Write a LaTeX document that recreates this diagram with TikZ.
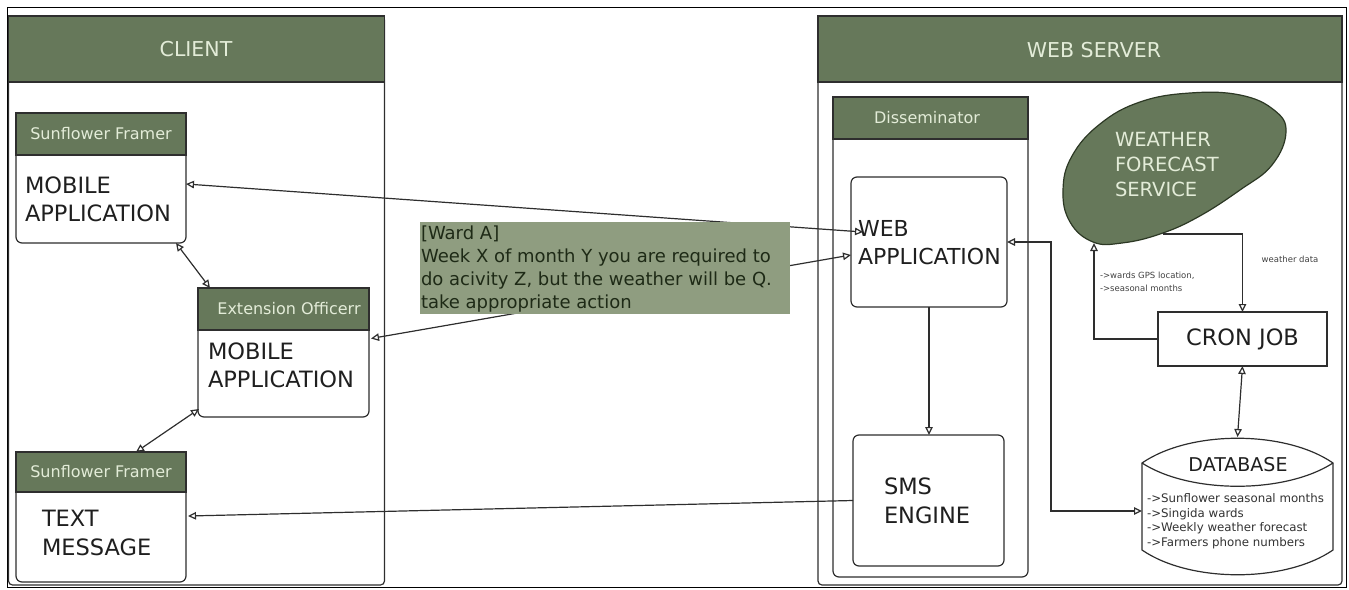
\documentclass[tikz,border=0pt]{standalone}
\usepackage{fontspec}
\setmainfont{DejaVu Sans}
\usetikzlibrary{arrows.meta}
\definecolor{hdrgreen}{HTML}{66785A}
\definecolor{hdrtext}{HTML}{E3ECD8}
\definecolor{msgfill}{HTML}{8F9D80}
\definecolor{msgtext}{HTML}{1E2A16}
\definecolor{edge}{HTML}{2E2E2E}
\definecolor{blobedge}{HTML}{2C3824}
\newcommand\fsz[2]{\fontsize{#1}{#2}\selectfont}

\begin{document}
\begin{tikzpicture}[x=1pt,y=-1pt,
  every node/.style={inner sep=0pt, outer sep=0pt},
  lane/.style={draw=edge, line width=1.2pt, rounded corners=4pt},
  laneheader/.style={draw=edge, fill=hdrgreen, line width=1.2pt},
  unit/.style={draw=edge, fill=white, line width=1.2pt, rounded corners=6pt},
  unithdr/.style={draw=edge, fill=hdrgreen, line width=1.2pt},
  hdrlabel/.style={text=hdrtext, font=\fsz{16}{19}},
  lanelabel/.style={text=hdrtext, font=\fsz{20.5}{24}},
  biglabel/.style={text=black!88, font=\fsz{22.5}{28}, align=left, anchor=north west},
  smalllabel/.style={text=black!75, font=\fsz{8.5}{13}, align=left},
  conn/.style={draw=edge, line width=1.2pt},
  twoway/.style={conn, {Triangle[open,length=8pt,width=7.5pt]}-{Triangle[open,length=8pt,width=7.5pt]}},
  oneway/.style={conn, -{Triangle[open,length=8pt,width=7.5pt]}},
]
\useasboundingbox (0,0) rectangle (1349,589);
\draw[black, line width=1pt] (7,7.5) rectangle (1346,587);

% ---- swimlanes ----
\node[lane, minimum width=376pt, minimum height=569pt] (clientlane) at (196.5,300.5) {};
\node[laneheader, minimum width=376pt, minimum height=66pt] (clienthdr) at (196.5,49) {};
\node[lanelabel] at (196,49) {CLIENT};

\node[lane, minimum width=524pt, minimum height=569pt] (serverlane) at (1080,300.5) {};
\node[laneheader, minimum width=524pt, minimum height=66pt] (serverhdr) at (1080,49) {};
\node[lanelabel] at (1094,50) {WEB SERVER};

\node[unit, minimum width=195pt, minimum height=480pt] (dissem) at (930.5,337) {};
\node[unithdr, minimum width=195pt, minimum height=42pt] (dissemhdr) at (930.5,118) {};
\node[hdrlabel] at (927,118) {Disseminator};

% ---- client devices ----
\node[unit, minimum width=170pt, minimum height=130pt] (mob1) at (101,178) {};
\node[unithdr, minimum width=170pt, minimum height=42pt] (mob1hdr) at (101,134) {};
\node[hdrlabel] at (101,134) {Sunflower Framer};
\node[biglabel] at (25,177) {MOBILE\\APPLICATION};

\node[unit, minimum width=171pt, minimum height=129pt] (ext) at (283.5,352.5) {};
\node[unithdr, minimum width=171pt, minimum height=42pt] (exthdr) at (283.5,309) {};
\node[hdrlabel] at (289,309) {Extension Officerr};
\node[biglabel] at (208,343) {MOBILE\\APPLICATION};

\node[unit, minimum width=170pt, minimum height=130pt] (txt) at (101,517) {};
\node[unithdr, minimum width=170pt, minimum height=40pt] (txthdr) at (101,472) {};
\node[hdrlabel] at (101,472) {Sunflower Framer};
\node[biglabel, font=\fsz{22.5}{29}] at (42,510) {TEXT\\MESSAGE};

% ---- server components ----
\node[unit, minimum width=156pt, minimum height=130pt] (web) at (929,242) {};
\node[biglabel, font=\fsz{22}{28}] at (858,220) {WEB\\APPLICATION};

\node[unit, minimum width=151pt, minimum height=131pt] (sms) at (928.5,500.5) {};
\node[biglabel, font=\fsz{22.5}{29}] at (884,478) {SMS\\ENGINE};

\node[draw=edge, fill=white, line width=1.2pt, minimum width=169pt, minimum height=54pt,
      font=\fsz{22.5}{28}, text=black!88] (cron) at (1242.5,339) {CRON JOB};

% weather forecast service cloud
\draw[draw=blobedge, fill=hdrgreen, line width=1.2pt]
  plot[smooth cycle, tension=0.7] coordinates {
    (1093,242) (1070,222) (1063,190) (1072,156) (1100,124) (1140,102)
    (1190,93) (1240,95) (1274,110) (1286,132) (1272,165) (1240,190)
    (1198,217) (1160,234) (1122,243)};
\node[text=hdrtext, font=\fsz{19.5}{25}, align=left, anchor=north west] at (1115,132)
  {WEATHER\\FORECAST\\SERVICE};
\coordinate (wfsout) at (1163,234);
\coordinate (wfsin) at (1094,243);

% database cylinder
\node[minimum width=191pt, minimum height=138pt] (db) at (1237.5,506) {};
\draw[draw=edge, fill=white, line width=1.2pt]
  (1142,463) .. controls (1190,430) and (1285,430) .. (1333,463) -- (1333,550)
  .. controls (1285,583) and (1190,583) .. (1142,550) -- cycle;
\draw[draw=edge, line width=1.2pt]
  (1142,463) .. controls (1190,494) and (1285,494) .. (1333,463);
\node[font=\fsz{19}{22}, text=black!88] at (1238,465) {DATABASE};
\node[text=black!80, font=\fsz{11.8}{14.5}, align=left, anchor=north west] at (1147,494)
  {->Sunflower seasonal months\\->Singida wards\\->Weekly weather forecast\\->Farmers phone numbers};

% ---- connectors ----
\draw[twoway] ([xshift=-10pt]mob1.south east) -- ([xshift=12pt]exthdr.north west);
\draw[twoway] ([xshift=1pt,yshift=8pt]ext.south west) -- ([xshift=120pt]txthdr.north west);
\draw[twoway] ([yshift=-6pt]mob1.east) -- ([xshift=12pt,yshift=10pt]web.west);
\draw[twoway] ([xshift=2pt,yshift=14pt]ext.east) -- ([yshift=-13pt]web.west);
\draw[oneway] (web.south) -- (web.south |- sms.north);
\draw[oneway] (sms.west) -- ([xshift=2pt,yshift=1pt]txt.east);
\draw[oneway] (wfsout) -| (cron.north);
\draw[oneway] (cron.west) -| (wfsin);
\draw[twoway] (cron.south) -- (db.north);
\draw[twoway] (web.east) -- ++(44,0) |- ([yshift=-5pt]db.west);

\node[smalllabel] at (1290,259) {weather data};
\node[smalllabel, anchor=north west] at (1100,272) {->wards GPS location,\\->seasonal months};

% ---- notification message ----
\node[fill=msgfill, minimum width=370pt, minimum height=92pt] (msg) at (605,268) {};
\node[text=msgtext, font=\fsz{18}{23}, align=left, anchor=north west] at (421,226)
  {[Ward A]\\Week X of month Y you are required to\\do acivity Z, but the weather will be Q.\\take appropriate action};
\end{tikzpicture}
\end{document}
